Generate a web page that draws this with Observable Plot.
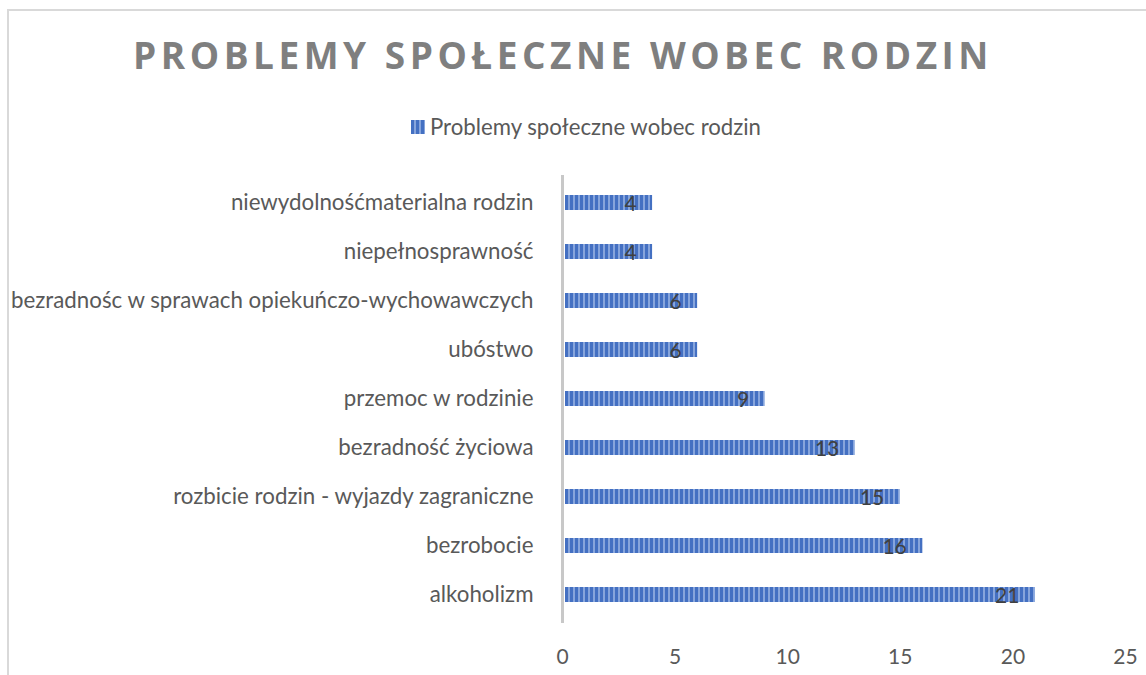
<!DOCTYPE html>
<html>
<head>
<meta charset="utf-8">
<script src="https://cdn.jsdelivr.net/npm/d3@7"></script>
<script src="https://cdn.jsdelivr.net/npm/@observablehq/plot@0.6"></script>
<style>
  html, body { margin: 0; padding: 0; width: 1146px; height: 675px; overflow: hidden; background: #fff; }
  #frame { position: absolute; left: 7px; top: 9px; width: 1200px; height: 700px; border: 2px solid #d9d9d9; box-sizing: border-box; }
  #title { position: absolute; left: -10px; width: 1146px; top: 31px; text-align: center; font-family: "Open Sans", sans-serif; font-weight: 700; font-size: 37px; letter-spacing: 4.5px; color: #7f7f7f; line-height: 48px; white-space: nowrap; }
  #legend { position: absolute; left: 411px; top: 113px; font-family: Lato, sans-serif; font-size: 22.2px; color: #595959; display: flex; align-items: center; gap: 5px; line-height: 28px; }
  #legend svg { display: block; }
  #chart { position: absolute; left: 0; top: 160px; }
</style>
</head>
<body>
<div id="frame"></div>
<div id="title">PROBLEMY SPOŁECZNE WOBEC RODZIN</div>
<div id="legend"><svg width="14" height="14"><defs><pattern id="stripesL" patternUnits="userSpaceOnUse" width="5" height="10"><rect width="5" height="10" fill="#4470c2"/><rect x="3" width="2" height="10" fill="#87a5dc"/></pattern></defs><rect width="14" height="14" fill="url(#stripesL)"/></svg><span>Problemy społeczne wobec rodzin</span></div>
<div id="chart"></div>
<script>
const categories = [
  "niewydolnośćmaterialna rodzin",
  "niepełnosprawność",
  "bezradnośc w sprawach opiekuńczo-wychowawczych",
  "ubóstwo",
  "przemoc w rodzinie",
  "bezradność życiowa",
  "rozbicie rodzin - wyjazdy zagraniczne",
  "bezrobocie",
  "alkoholizm"
];
const values = [4, 4, 6, 6, 9, 13, 15, 16, 21];
const xTicks = [0, 5, 10, 15, 20, 25];

const data = categories.map((c, i) => ({category: c, value: values[i]}));

const chart = Plot.plot({
  width: 1146,
  height: 515,
  marginLeft: 562,
  marginRight: 21,
  marginTop: 15,
  marginBottom: 52,
  style: {fontFamily: "Lato, sans-serif", fontSize: "21px", color: "#595959", background: "transparent"},
  x: {domain: [0, 25], ticks: xTicks, tickSize: 0, tickPadding: 24, label: null},
  y: {domain: categories, paddingInner: 0.69, paddingOuter: 0.345, label: null, tickSize: 0, tickPadding: 29},
  marks: [
    Plot.axisY({tickSize: 0, tickPadding: 29, fontSize: 22.3, label: null}),
    Plot.axisX({ticks: xTicks, tickSize: 0, tickPadding: 26, fontSize: 21, label: null}),
    Plot.barX(data, {x1: 0, x2: "value", y: "category", fill: "url(#stripes)", insetLeft: 3}),
    Plot.ruleX([0], {stroke: "#c8c8c8", strokeWidth: 3}),
    Plot.text(data, {x: "value", y: "category", text: d => String(d.value), textAnchor: "end", dx: -16, dy: 1, fill: "#404040", fontSize: 21})
  ]
});

const defs = document.createElementNS("http://www.w3.org/2000/svg", "defs");
defs.innerHTML = '<pattern id="stripes" patternUnits="userSpaceOnUse" width="5" height="10"><rect width="5" height="10" fill="#4470c2"/><rect x="3" width="2" height="10" fill="#87a5dc"/></pattern>';
chart.insertBefore(defs, chart.firstChild);
document.getElementById("chart").appendChild(chart);
</script>
</body>
</html>
